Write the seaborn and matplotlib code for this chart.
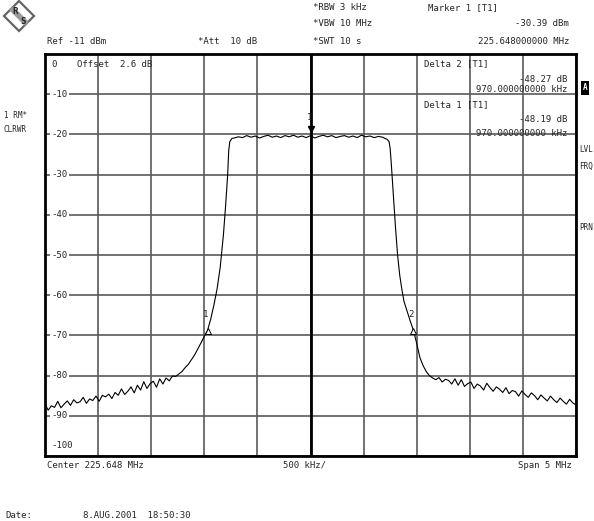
import numpy as np
import pandas as pd
import matplotlib
matplotlib.use('Agg')
import matplotlib.pyplot as plt
from matplotlib.patches import Polygon
import seaborn as sns

# trace: offset from centre (MHz) and level (dBm)
freq_left = [-2.50, -2.47, -2.44, -2.41, -2.38, -2.35, -2.32, -2.29, -2.26, -2.23,
             -2.20, -2.17, -2.14, -2.11, -2.08, -2.05, -2.02, -1.99, -1.96, -1.93,
             -1.90, -1.87, -1.84, -1.81, -1.78, -1.75, -1.72, -1.69, -1.66, -1.63,
             -1.60, -1.57, -1.54, -1.51, -1.48, -1.45, -1.42, -1.39, -1.36, -1.33, -1.30]
level_left = [-87.0, -88.6, -87.5, -87.9, -86.4, -88.0, -87.1, -86.3, -87.4, -86.0,
              -86.8, -86.5, -85.4, -86.9, -85.8, -86.2, -85.1, -86.4, -84.9, -85.3,
              -84.6, -85.7, -84.2, -84.9, -83.3, -84.7, -83.9, -82.8, -84.3, -82.4,
              -83.6, -81.5, -83.2, -82.0, -81.4, -82.9, -80.8, -82.1, -80.6, -81.3, -80.1]

freq_rise = [-1.27, -1.24, -1.21, -1.18, -1.15, -1.12, -1.09, -1.06, -1.03, -1.00,
             -0.97, -0.94, -0.91, -0.88, -0.85, -0.82, -0.80, -0.78, -0.77, -0.76, -0.74]
level_rise = [-80.2, -79.6, -79.0, -78.0, -77.2, -76.0, -74.8, -73.3, -71.8, -70.2,
              -68.8, -66.0, -62.5, -58.5, -53.0, -45.0, -38.0, -30.0, -24.0, -21.8, -21.0]

freq_top = [-0.72, -0.68, -0.64, -0.60, -0.56, -0.52, -0.48, -0.44, -0.40, -0.36,
            -0.32, -0.28, -0.24, -0.20, -0.16, -0.12, -0.08, -0.04, 0.00, 0.04,
            0.08, 0.12, 0.16, 0.20, 0.24, 0.28, 0.32, 0.36, 0.40, 0.44,
            0.48, 0.52, 0.56, 0.60, 0.64, 0.68, 0.70]
level_top = [-20.9, -20.6, -20.8, -20.3, -20.7, -20.4, -20.9, -20.5, -20.2, -20.7,
             -20.4, -20.8, -20.3, -20.6, -20.2, -20.7, -20.4, -20.8, -20.3, -20.9,
             -20.5, -20.2, -20.6, -20.3, -20.8, -20.5, -20.3, -20.7, -20.4, -20.8,
             -20.2, -20.6, -20.4, -20.8, -20.5, -20.7, -21.0]

freq_fall = [0.72, 0.74, 0.75, 0.76, 0.78, 0.80, 0.82, 0.84, 0.86, 0.88,
             0.91, 0.94, 0.97, 1.00, 1.03, 1.06, 1.09, 1.12, 1.15, 1.18]
level_fall = [-21.2, -21.8, -23.5, -27.0, -35.0, -43.0, -50.0, -55.0, -58.5, -61.5,
              -64.0, -66.5, -68.8, -72.0, -75.5, -77.5, -79.0, -80.0, -80.6, -81.0]

freq_right = [1.21, 1.24, 1.27, 1.30, 1.33, 1.36, 1.39, 1.42, 1.45, 1.48,
              1.51, 1.54, 1.57, 1.60, 1.63, 1.66, 1.69, 1.72, 1.75, 1.78,
              1.81, 1.84, 1.87, 1.90, 1.93, 1.96, 1.99, 2.02, 2.05, 2.08,
              2.11, 2.14, 2.17, 2.20, 2.23, 2.26, 2.29, 2.32, 2.35, 2.38,
              2.41, 2.44, 2.47, 2.50]
level_right = [-80.5, -81.6, -80.9, -81.2, -82.1, -80.8, -82.4, -81.0, -82.7, -82.0,
               -81.6, -83.2, -82.1, -82.6, -83.6, -81.9, -83.0, -83.9, -82.8, -83.4,
               -84.2, -83.0, -84.5, -83.7, -84.0, -85.1, -83.8, -84.7, -85.4, -84.3,
               -85.0, -86.0, -84.8, -85.6, -86.3, -85.1, -86.0, -86.7, -85.6, -86.4,
               -87.1, -85.9, -86.8, -87.3]

# markers
marker_freq = [0.0, -0.965, 0.965]
marker_level = [-20.4, -68.9, -68.9]
marker_names = ['1', '1', '2']

y_grid_labels = ['0', '-10', '-20', '-30', '-40', '-50', '-60', '-70', '-80', '-90', '-100']

trace = pd.DataFrame({
    'freq': freq_left + freq_rise + freq_top + freq_fall + freq_right,
    'level': level_left + level_rise + level_top + level_fall + level_right,
})

sns.set_style('white')
plt.rcParams['font.family'] = ['DejaVu Sans Mono']

W, H = 594, 521
fig = plt.figure(figsize=(W / 100, H / 100), dpi=100)
ax = fig.add_axes([45 / W, 1 - 456 / H, 531 / W, 402 / H])


def px(x, y):
    return x / W, 1 - y / H


sns.lineplot(data=trace, x='freq', y='level', ax=ax, color='black', lw=0.8,
             sort=False, zorder=4)

ax.set_xlim(-2.5, 2.5)
ax.set_ylim(-100, 0)
ax.set_xticks(np.arange(-2.5, 2.51, 0.5))
ax.set_yticks(np.arange(-100, 1, 10))
ax.set_xticklabels([])
ax.set_yticklabels([])
ax.tick_params(length=0)
ax.set_xlabel('')
ax.set_ylabel('')
ax.grid(True, color='#5a5a5a', lw=1.2)
ax.axvline(0, color='black', lw=2, zorder=3)
for s in ax.spines.values():
    s.set_linewidth(2)
    s.set_color('black')

fs = 6.5
# level labels inside the grid
for i, lab in enumerate(y_grid_labels):
    yv = -10 * i
    if i == 0:
        yv = -2.5
    elif i == 10:
        yv = -97.5
    ax.text(0.012, yv, lab, transform=ax.get_yaxis_transform(), fontsize=fs,
            va='center', ha='left', zorder=5,
            bbox=dict(facecolor='white', edgecolor='none', pad=1.0))

ax.text(-2.2, -2.5, 'Offset  2.6 dB', fontsize=fs, va='center', ha='left', zorder=5)

# marker annotations
ax.plot(marker_freq[0], -18.6, marker='v', color='black', ms=5, zorder=6)
ax.text(marker_freq[0] - 0.01, -15.7, marker_names[0], fontsize=fs, ha='center', va='center')
for f, lv, nm in zip(marker_freq[1:], marker_level[1:], marker_names[1:]):
    ax.plot(f, lv, marker='^', mfc='white', mec='black', ms=5, mew=0.7, zorder=6)
    ax.text(f - 0.02, lv + 4, nm, fontsize=fs, ha='center', va='center', zorder=6)

# delta marker readouts
ax.text(1.07, -2.5, 'Delta 2 [T1]', fontsize=fs, va='center', ha='left')
ax.text(2.42, -6.3, '-48.27 dB', fontsize=fs, va='center', ha='right')
ax.text(2.42, -8.8, '970.000000000 kHz', fontsize=fs, va='center', ha='right')
ax.text(1.07, -12.5, 'Delta 1 [T1]', fontsize=fs, va='center', ha='left')
ax.text(2.42, -16.3, '-48.19 dB', fontsize=fs, va='center', ha='right')
ax.text(2.42, -19.7, '970.000000000 kHz', fontsize=fs, va='center', ha='right')

# header text
fig.text(*px(47, 41), 'Ref -11 dBm', fontsize=fs, va='center')
fig.text(*px(198, 41), '*Att  10 dB', fontsize=fs, va='center')
fig.text(*px(313, 8), '*RBW 3 kHz', fontsize=fs, va='center')
fig.text(*px(313, 24), '*VBW 10 MHz', fontsize=fs, va='center')
fig.text(*px(313, 41), '*SWT 10 s', fontsize=fs, va='center')
fig.text(*px(428, 8), 'Marker 1 [T1]', fontsize=fs, va='center')
fig.text(*px(569, 24), '-30.39 dBm', fontsize=fs, va='center', ha='right')
fig.text(*px(569, 41), '225.648000000 MHz', fontsize=fs, va='center', ha='right')

# side labels
fig.text(*px(4, 115), '1 RM*', fontsize=5.5, va='center')
fig.text(*px(4, 129), 'CLRWR', fontsize=5.5, va='center')
fig.text(*px(585, 88), 'A', fontsize=5.5, va='center', ha='center', color='white',
         fontweight='bold', bbox=dict(facecolor='black', edgecolor='none', pad=1.5))
fig.text(*px(579, 150), 'LVL', fontsize=5.5, va='center')
fig.text(*px(579, 166), 'FRQ', fontsize=5.5, va='center')
fig.text(*px(579, 228), 'PRN', fontsize=5.5, va='center')

# footer
fig.text(*px(47, 465), 'Center 225.648 MHz', fontsize=fs, va='center')
fig.text(*px(283, 465), '500 kHz/', fontsize=fs, va='center')
fig.text(*px(572, 465), 'Span 5 MHz', fontsize=fs, va='center', ha='right')
fig.text(*px(5, 515), 'Date:', fontsize=fs, va='center')
fig.text(*px(83, 515), '8.AUG.2001  18:50:30', fontsize=fs, va='center')

# R&S logo
cx, cy, r = 19, 16, 15
diamond = Polygon([px(cx, cy - r), px(cx + r, cy), px(cx, cy + r), px(cx - r, cy)],
                  closed=True, transform=fig.transFigure, facecolor='white',
                  edgecolor='#666666', lw=1.6)
fig.patches.append(diamond)
band = Polygon([px(cx - 10, cy - 6), px(cx - 6, cy - 10), px(cx + 10, cy + 6), px(cx + 6, cy + 10)],
               closed=True, transform=fig.transFigure, facecolor='#999999', edgecolor='none')
fig.patches.append(band)
fig.text(*px(cx - 4, cy - 5), 'R', fontsize=6.5, ha='center', va='center', fontweight='bold')
fig.text(*px(cx + 4, cy + 6), 'S', fontsize=6.5, ha='center', va='center', fontweight='bold')

fig.savefig('out.png', dpi=100)
